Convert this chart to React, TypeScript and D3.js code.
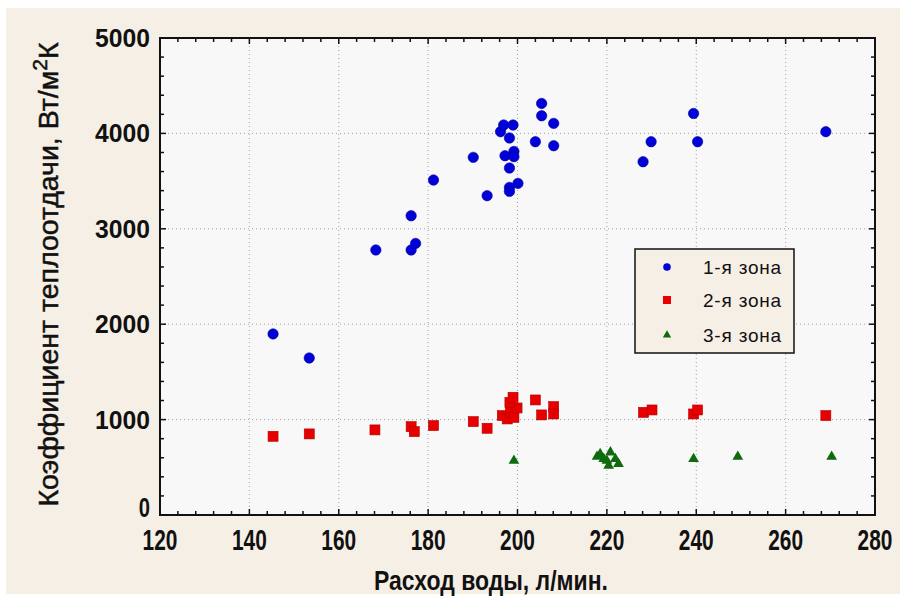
import React from "react";
import * as d3 from "d3";

const blueX = [145.3, 153.4, 168.3, 176.2, 177.2, 176.2, 181.2, 190.1, 193.2, 196.2, 196.9, 199.0, 198.2, 197.2, 199.2, 199.2, 198.2, 200.1, 198.2, 198.2, 204.0, 205.4, 205.4, 208.1, 208.1, 228.1, 229.9, 239.4, 240.3, 269.0];
const blueY = [1898, 1646, 2778, 2778, 2847, 3137, 3511, 3749, 3347, 4018, 4088, 4088, 3952, 3766, 3811, 3756, 3637, 3476, 3434, 3392, 3913, 4314, 4185, 4105, 3871, 3703, 3913, 4209, 3913, 4018];

const redX = [145.3, 153.4, 168.1, 176.2, 176.9, 181.2, 190.1, 193.2, 196.6, 197.7, 198.4, 199.2, 199.9, 198.3, 199.0, 204.0, 205.4, 208.1, 208.1, 228.2, 230.1, 239.4, 240.3, 269.0];
const redY = [825, 850, 892, 926, 874, 937, 979, 909, 1042, 1007, 1076, 1024, 1122, 1181, 1234, 1206, 1049, 1136, 1059, 1076, 1101, 1059, 1101, 1042];

const greenX = [199.2, 217.8, 218.5, 219.3, 220.0, 220.8, 221.9, 220.4, 222.6, 239.4, 249.3, 270.3];
const greenY = [570, 612, 640, 588, 570, 657, 588, 518, 535, 588, 612, 612];

const xTicks = [120, 140, 160, 180, 200, 220, 240, 260, 280];
const yTicks = [0, 1000, 2000, 3000, 4000, 5000];
const seriesNames = ["1-я зона", "2-я зона", "3-я зона"];

const W = 906, H = 602;
const L = 160, R = 875, T = 38, B = 515;

export default function App() {
  const x = d3.scaleLinear().domain([120, 280]).range([L, R]);
  const y = d3.scaleLinear().domain([0, 5000]).range([B, T]);
  const xMinor = d3.range(120, 280.01, 4);
  const yMinor = d3.range(0, 5000.01, 200);
  const tri = d3.symbol().type(d3.symbolTriangle);
  const bigTri = tri.size(50)() as string;
  const smallTri = tri.size(30)() as string;
  const font = "'Liberation Sans', Arial, sans-serif";
  const beige = "#f6efe5";

  const legendX = 635, legendY = 249, legendW = 159, legendH = 104;
  const rows = [267, 300, 335];

  return (
    <svg width={W} height={H} style={{ position: "absolute", left: 0, top: 0, background: "#ffffff" }}>
      <rect x={6} y={8} width={894} height={586} fill={beige} />
      <rect x={L} y={T} width={R - L} height={B - T} fill="#f8f8f8" />
      {xTicks.slice(1, -1).map((t) => (
        <line key={"gx" + t} x1={x(t)} x2={x(t)} y1={T} y2={B} stroke="#a0a0a0" strokeWidth={1} strokeDasharray="1,3" />
      ))}
      {yTicks.slice(1, -1).map((t) => (
        <line key={"gy" + t} x1={L} x2={R} y1={y(t)} y2={y(t)} stroke="#a0a0a0" strokeWidth={1} strokeDasharray="1,3" />
      ))}
      {xMinor.map((t) => {
        const major = (t - 120) % 20 === 0;
        const len = major ? 6 : 4;
        return (
          <g key={"xm" + t}>
            <line x1={x(t)} x2={x(t)} y1={B} y2={B - len} stroke="#111" strokeWidth={1.5} />
            <line x1={x(t)} x2={x(t)} y1={T} y2={T + len} stroke="#111" strokeWidth={1.5} />
          </g>
        );
      })}
      {yMinor.map((t) => {
        const major = t % 1000 === 0;
        const len = major ? 6 : 4;
        return (
          <g key={"ym" + t}>
            <line x1={L} x2={L + len} y1={y(t)} y2={y(t)} stroke="#111" strokeWidth={1.5} />
            <line x1={R} x2={R - len} y1={y(t)} y2={y(t)} stroke="#111" strokeWidth={1.5} />
          </g>
        );
      })}
      <rect x={L} y={T} width={R - L} height={B - T} fill="none" stroke="#111" strokeWidth={2} />
      {redX.map((v, i) => (
        <rect key={"r" + i} x={x(v) - 5} y={y(redY[i]) - 5} width={10} height={10} fill="#e80000" stroke="#b00000" strokeWidth={0.6} />
      ))}
      {greenX.map((v, i) => (
        <path key={"g" + i} d={bigTri} transform={`translate(${x(v)},${y(greenY[i])})`} fill="#0d6a0d" />
      ))}
      {blueX.map((v, i) => (
        <circle key={"b" + i} cx={x(v)} cy={y(blueY[i])} r={5.2} fill="#0000d8" stroke="#00009a" strokeWidth={0.6} />
      ))}
      {xTicks.map((t) => (
        <g key={"xl" + t} transform={`translate(${x(t)},550) scale(0.72,1)`}>
          <text x={0} y={0} textAnchor="middle" fontFamily={font} fontWeight="bold" fontSize={29} fill="#111">
            {t}
          </text>
        </g>
      ))}
      {yTicks.map((t) => (
        <g key={"yl" + t} transform={`translate(150,${y(t) + (t === 0 ? 2 : 9)}) scale(${t === 0 ? 0.72 : 0.95},1)`}>
          <text x={0} y={0} textAnchor="end" fontFamily={font} fontWeight="bold" fontSize={t === 0 ? 28 : 26} fill="#111">
            {t}
          </text>
        </g>
      ))}
      <g transform={`translate(491,590) scale(0.82,1)`}>
        <text x={0} y={0} textAnchor="middle" fontFamily={font} fontWeight="bold" fontSize={28} fill="#111">
          Расход воды, л/мин.
        </text>
      </g>
      <text transform={`translate(58,${(T + B) / 2 - 2}) rotate(-90)`} textAnchor="middle" fontFamily={font} fontSize={28.5} fill="#111" stroke="#111" strokeWidth={0.5}>
        Коэффициент теплоотдачи, Вт/м<tspan dy={-11} fontSize={21}>2</tspan><tspan dy={11}>К</tspan>
      </text>
      <rect x={legendX} y={legendY} width={legendW} height={legendH} fill={beige} stroke="#111" strokeWidth={1.5} />
      <circle cx={667} cy={rows[0]} r={3.8} fill="#0000d8" />
      <rect x={663} y={rows[1] - 4} width={8} height={8} fill="#e80000" />
      <path d={smallTri} transform={`translate(667,${rows[2]})`} fill="#0d6a0d" />
      {seriesNames.map((s, i) => (
        <text key={s} x={703} y={rows[i] + 7} fontFamily={font} fontSize={19} letterSpacing={0.8} fill="#111">
          {s}
        </text>
      ))}
    </svg>
  );
}
